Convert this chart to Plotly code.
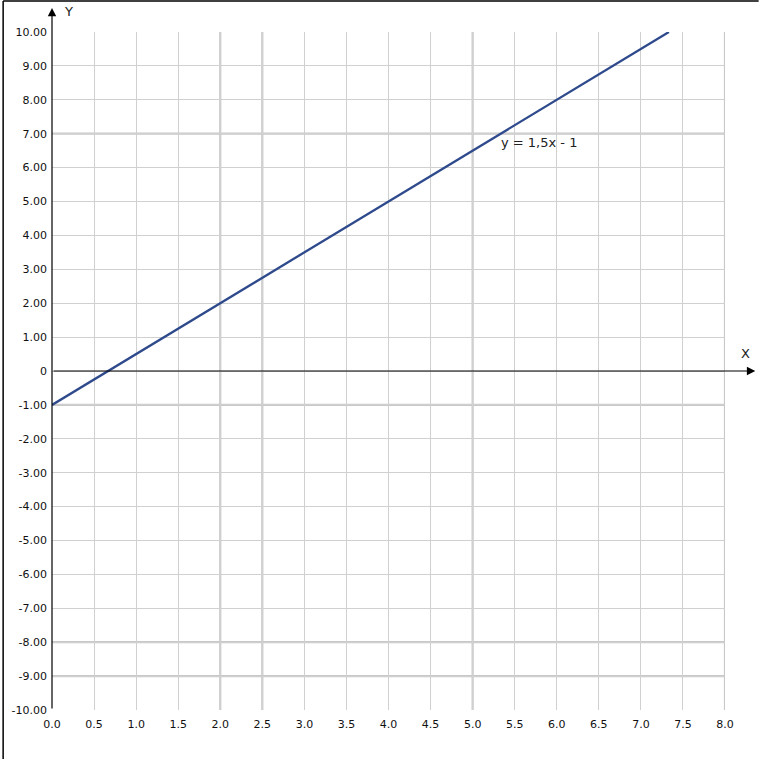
import plotly.graph_objects as go

# Data
line_x = [0.0, 7.333]
line_y = [-1.0, 10.0]
line_label = "y = 1,5x - 1"

x_ticks = [0.0, 0.5, 1.0, 1.5, 2.0, 2.5, 3.0, 3.5, 4.0, 4.5, 5.0, 5.5, 6.0, 6.5, 7.0, 7.5, 8.0]
x_ticktext = ["0.0", "0.5", "1.0", "1.5", "2.0", "2.5", "3.0", "3.5", "4.0", "4.5",
              "5.0", "5.5", "6.0", "6.5", "7.0", "7.5", "8.0"]
y_ticks = [10, 9, 8, 7, 6, 5, 4, 3, 2, 1, 0, -1, -2, -3, -4, -5, -6, -7, -8, -9, -10]
y_ticktext = ["10.00", "9.00", "8.00", "7.00", "6.00", "5.00", "4.00", "3.00", "2.00", "1.00", "0",
              "-1.00", "-2.00", "-3.00", "-4.00", "-5.00", "-6.00", "-7.00", "-8.00", "-9.00", "-10.00"]

# thicker-looking grid lines in the reference
thick_x = [2.0, 2.5, 5.0]
thick_y = [7, -1, -8, -9]

label_pos = (5.79, 6.73)

fig = go.Figure()
fig.add_trace(go.Scatter(x=line_x, y=line_y, mode="lines",
                         line=dict(color="#2E4A8C", width=2.3),
                         hoverinfo="skip", showlegend=False))

grid_col = "#d0d0d0"
shapes = []
for xv in thick_x:
    shapes.append(dict(type="line", xref="x", yref="y", x0=xv, x1=xv, y0=-10, y1=10,
                       line=dict(color="#c8c8c8", width=2.2), layer="below"))
for yv in thick_y:
    shapes.append(dict(type="line", xref="x", yref="y", x0=0, x1=8, y0=yv, y1=yv,
                       line=dict(color="#c8c8c8", width=2.2), layer="below"))
# right edge grey
shapes.append(dict(type="line", xref="x", yref="y", x0=8, x1=8, y0=-10, y1=10,
                   line=dict(color="#c8c8c8", width=2.2), layer="below"))
# image border top and left
shapes.append(dict(type="line", xref="paper", yref="paper", x0=-0.0726, x1=1.05,
                   y0=1.0457, y1=1.0457, line=dict(color="black", width=1.5)))
shapes.append(dict(type="line", xref="paper", yref="paper", x0=-0.0726, x1=-0.0726,
                   y0=-0.08, y1=1.0457, line=dict(color="black", width=1.5)))

annotations = [
    dict(x=label_pos[0], y=label_pos[1], xref="x", yref="y", text=line_label,
         showarrow=False, font=dict(family="DejaVu Sans", size=13, color="#222")),
    # Y axis arrow
    dict(x=0, y=10.71, ax=0, ay=-10, xref="x", yref="y", axref="x", ayref="y",
         showarrow=True, arrowhead=2, arrowsize=1.4, arrowwidth=1.2, arrowcolor="black", text=""),
    # X axis arrow
    dict(x=8.36, y=0, ax=0, ay=0, xref="x", yref="y", axref="x", ayref="y",
         showarrow=True, arrowhead=2, arrowsize=1.4, arrowwidth=1.2, arrowcolor="black", text=""),
    dict(x=0.025, y=1.0295, xref="paper", yref="paper", text="Y", showarrow=False,
         xanchor="center", yanchor="middle",
         font=dict(family="DejaVu Sans", size=13, color="#222")),
    dict(x=1.031, y=0.5265, xref="paper", yref="paper", text="X", showarrow=False,
         xanchor="center", yanchor="middle",
         font=dict(family="DejaVu Sans", size=13, color="#222")),
]

fig.update_layout(
    width=759, height=759,
    margin=dict(l=50, r=34, t=32, b=49),
    paper_bgcolor="white", plot_bgcolor="white",
    shapes=shapes, annotations=annotations,
    xaxis=dict(range=[0, 8], tickvals=x_ticks, ticktext=x_ticktext,
               showgrid=True, gridcolor=grid_col, gridwidth=1, zeroline=False,
               showline=False, ticks="", ticklen=0, ticklabelstandoff=6,
               tickfont=dict(family="DejaVu Sans", size=11, color="#111")),
    yaxis=dict(range=[-10, 10], tickvals=y_ticks, ticktext=y_ticktext,
               showgrid=True, gridcolor=grid_col, gridwidth=1, zeroline=False,
               showline=False, ticks="", ticklen=0, ticklabelstandoff=4,
               tickfont=dict(family="DejaVu Sans", size=11, color="#111")),
)

fig.write_html("out.html", config={"displayModeBar": False},
               post_script="document.body.style.margin='0';")
